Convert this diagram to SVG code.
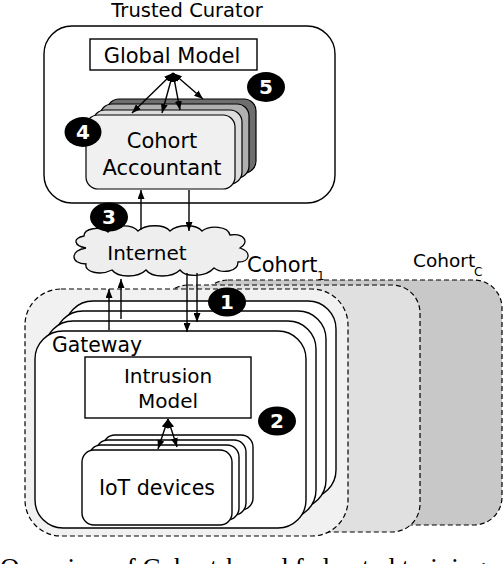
<svg xmlns="http://www.w3.org/2000/svg" width="504" height="564" viewBox="0 0 504 564">
<style>
text{font-family:"DejaVu Sans","Noto Sans",sans-serif;fill:#000}
.box{fill:#fff;stroke:#000;stroke-width:1.4}
.dash{stroke:#000;stroke-width:1.2;stroke-dasharray:5 3}
.ln{stroke:#000;stroke-width:1.4;fill:none}
.badge{fill:#000}
.bt{fill:#fff;font-weight:bold;font-size:20px;text-anchor:middle}
.c{text-anchor:middle}
</style>
<defs>
<marker id="ah" markerUnits="userSpaceOnUse" markerWidth="9" markerHeight="7" refX="9" refY="3.5" orient="auto-start-reverse">
<path d="M0,0 L9,3.5 L0,7 z" fill="#000"/>
</marker>
</defs>

<g id="cohort-c">
<rect x="200" y="280" width="302" height="245" rx="28" fill="#c8c8c8" class="dash"/>
<text x="413" y="267" font-size="18.5">Cohort</text>
<text x="474" y="276" font-size="12">C</text>
</g>
<g id="cohort-mid">
<rect x="160" y="285" width="260" height="247" rx="28" fill="#e0e0e0" class="dash"/>
</g>
<g id="cohort-1">
<rect x="25" y="289" width="323" height="247" rx="36" fill="#f1f1f1" class="dash"/>
<text x="247" y="272" font-size="21">Cohort</text>
<text x="317" y="280" font-size="12">1</text>
</g>

<g id="trusted-curator">
<rect x="44" y="26" width="291" height="177" rx="28" class="box"/>
<text x="187" y="17" font-size="19.5" class="c">Trusted Curator</text>
</g>

<g id="global-model">
<rect x="90" y="39" width="167" height="31" class="box" stroke-width="1.2"/>
<text x="172" y="63" font-size="21" class="c">Global Model</text>
</g>

<g id="cohort-accountant">
<rect x="107" y="99" width="149" height="74" rx="12" fill="#6e6e6e" stroke="#000" stroke-width="1.2"/>
<rect x="100" y="104" width="149" height="74" rx="12" fill="#b0b0b0" stroke="#000" stroke-width="1.2"/>
<rect x="93" y="110" width="149" height="74" rx="12" fill="#dcdcdc" stroke="#000" stroke-width="1.2"/>
<rect x="86" y="115" width="149" height="74" rx="12" fill="#f0f0f0" stroke="#000" stroke-width="1.2"/>
<text x="162" y="148" font-size="21" class="c">Cohort</text>
<text x="162" y="175" font-size="21" class="c">Accountant</text>
</g>

<g id="internet">
<path d="M86 248 C74 246,72 238,84 236 C84 228,100 226,108 232 C114 224,132 224,138 231 C146 224,164 224,170 231 C178 224,196 224,202 231 C210 225,228 226,230 235 C244 233,250 242,240 248 C252 252,250 262,238 262 C238 272,222 274,214 268 C206 277,186 278,180 270 C172 278,152 278,146 270 C138 278,118 278,112 270 C100 276,84 272,86 264 C70 264,70 250,86 248 Z" fill="#eeeeee" stroke="#000" stroke-width="1.3"/>
<text x="147" y="260" font-size="20" class="c">Internet</text>
</g>

<g id="gateway">
<rect x="65" y="301" width="271" height="197" rx="28" class="box"/>
<rect x="55" y="311" width="271" height="197" rx="28" class="box"/>
<rect x="45" y="321" width="271" height="197" rx="28" class="box"/>
<rect x="35" y="331" width="271" height="197" rx="28" class="box"/>
<text x="52" y="352" font-size="20.4">Gateway</text>
</g>

<g id="intrusion-model">
<rect x="85" y="357" width="166" height="61" class="box" stroke-width="1.2"/>
<text x="168" y="383" font-size="20" class="c">Intrusion</text>
<text x="168" y="408" font-size="20" class="c">Model</text>
</g>

<g id="iot-devices">
<rect x="103" y="435" width="150" height="75" rx="12" class="box" stroke-width="1.2"/>
<rect x="96" y="440" width="150" height="75" rx="12" class="box" stroke-width="1.2"/>
<rect x="89" y="445" width="150" height="75" rx="12" class="box" stroke-width="1.2"/>
<rect x="82" y="450" width="150" height="75" rx="12" class="box" stroke-width="1.2"/>
<text x="157" y="495" font-size="20.6" class="c">IoT devices</text>
</g>

<g id="connectors">
<line x1="173" y1="73" x2="132" y2="113" class="ln" marker-start="url(#ah)" marker-end="url(#ah)"/>
<line x1="173" y1="73" x2="162" y2="113" class="ln" marker-start="url(#ah)" marker-end="url(#ah)"/>
<line x1="173" y1="73" x2="180" y2="110" class="ln" marker-start="url(#ah)" marker-end="url(#ah)"/>
<line x1="173" y1="73" x2="203" y2="99" class="ln" marker-start="url(#ah)" marker-end="url(#ah)"/>
<line x1="141" y1="230" x2="141" y2="190" class="ln" marker-end="url(#ah)"/>
<line x1="189" y1="190" x2="189" y2="231" class="ln" marker-end="url(#ah)"/>
<line x1="109" y1="330" x2="109" y2="289" class="ln" marker-end="url(#ah)"/>
<line x1="121" y1="319" x2="121" y2="279" class="ln" marker-end="url(#ah)"/>
<line x1="187" y1="273" x2="187" y2="332" class="ln" marker-end="url(#ah)"/>
<line x1="197" y1="273" x2="197" y2="322" class="ln" marker-end="url(#ah)"/>
<line x1="168" y1="419" x2="158" y2="449" class="ln" marker-start="url(#ah)" marker-end="url(#ah)"/>
<line x1="168" y1="419" x2="177" y2="447" class="ln" marker-start="url(#ah)" marker-end="url(#ah)"/>
</g>

<g id="badge-1"><ellipse cx="227" cy="302" rx="19" ry="14.5" class="badge"/><text x="227" y="309" class="bt">1</text></g>
<g id="badge-2"><ellipse cx="277" cy="421" rx="19" ry="14.5" class="badge"/><text x="277" y="428" class="bt">2</text></g>
<g id="badge-3"><ellipse cx="109" cy="217" rx="19" ry="14.5" class="badge"/><text x="109" y="224" class="bt">3</text></g>
<g id="badge-4"><ellipse cx="83" cy="132" rx="18.5" ry="15" class="badge"/><text x="83" y="139" class="bt">4</text></g>
<g id="badge-5"><ellipse cx="266" cy="87" rx="19" ry="15" class="badge"/><text x="266" y="94" class="bt">5</text></g>

<text x="0" y="577" font-size="27" style="font-family:'Liberation Serif',serif">Overview of Cohort-based federated training</text>
</svg>
